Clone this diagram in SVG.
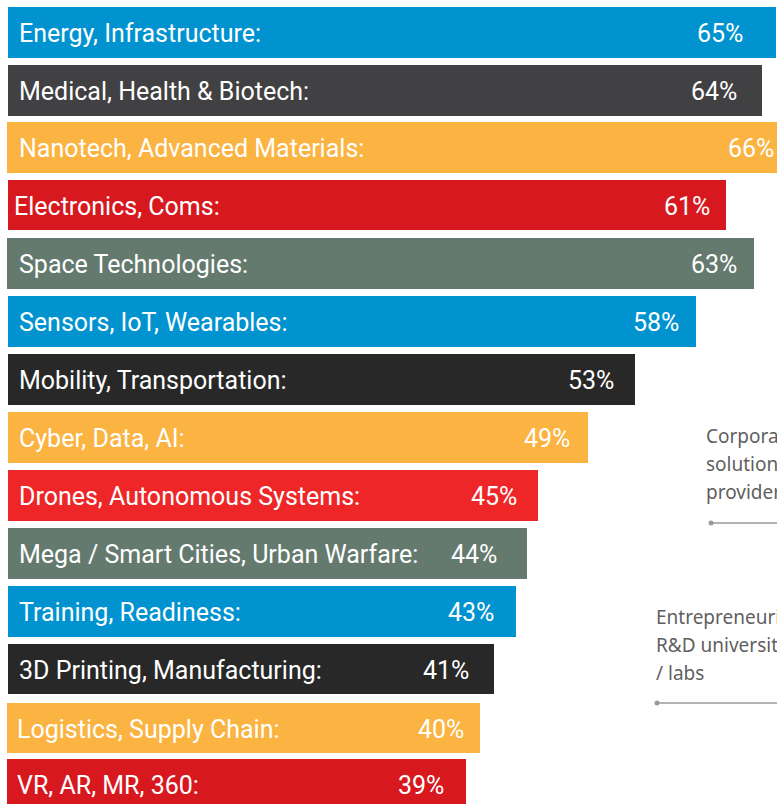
<svg xmlns="http://www.w3.org/2000/svg" width="777" height="804" viewBox="0 0 777 804">
<style>
.lbl{font-family:Roboto,"Liberation Sans",sans-serif;font-size:25px;fill:#ffffff}
.pct{font-family:Roboto,"Liberation Sans",sans-serif;font-size:25px;fill:#ffffff}
.note{font-family:"Noto Sans","Open Sans","Liberation Sans",sans-serif;font-size:19px;fill:#5f5f5f}
.blue{fill:#0093D0}.dark{fill:#414042}.black{fill:#282828}.yellow{fill:#FBB341}.red{fill:#D7191F}.red2{fill:#EE2628}.gray{fill:#647A6E}
.lead{stroke:#9a9a9a;stroke-width:1.5;fill:none}
</style>
<rect width="777" height="804" fill="#ffffff"/>
<g id="bar1"><rect class="blue" x="8" y="7" width="768" height="51"/><text class="lbl" x="19" y="42">Energy, Infrastructure:</text><text class="pct" x="697" y="42">65%</text></g>
<g id="bar2"><rect class="dark" x="8" y="65" width="754" height="51"/><text class="lbl" x="19" y="100">Medical, Health &amp; Biotech:</text><text class="pct" x="691" y="100">64%</text></g>
<g id="bar3"><rect class="yellow" x="7" y="122" width="770" height="51"/><text class="lbl" x="19" y="157">Nanotech, Advanced Materials:</text><text class="pct" x="728" y="157">66%</text></g>
<g id="bar4"><rect class="red" x="8" y="180" width="718" height="50"/><text class="lbl" x="14" y="215">Electronics, Coms:</text><text class="pct" x="664" y="215">61%</text></g>
<g id="bar5"><rect class="gray" x="7" y="238" width="747" height="51"/><text class="lbl" x="19" y="273">Space Technologies:</text><text class="pct" x="691" y="273">63%</text></g>
<g id="bar6"><rect class="blue" x="8" y="296" width="688" height="51"/><text class="lbl" x="19" y="331">Sensors, IoT, Wearables:</text><text class="pct" x="633" y="331">58%</text></g>
<g id="bar7"><rect class="black" x="8" y="354" width="627" height="51"/><text class="lbl" x="19" y="389">Mobility, Transportation:</text><text class="pct" x="568" y="389">53%</text></g>
<g id="bar8"><rect class="yellow" x="8" y="412" width="580" height="51"/><text class="lbl" x="19" y="447">Cyber, Data, AI:</text><text class="pct" x="524" y="447">49%</text></g>
<g id="bar9"><rect class="red2" x="8" y="470" width="530" height="51"/><text class="lbl" x="19" y="505">Drones, Autonomous Systems:</text><text class="pct" x="471" y="505">45%</text></g>
<g id="bar10"><rect class="gray" x="8" y="528" width="519" height="51"/><text class="lbl" x="19" y="563">Mega / Smart Cities, Urban Warfare:</text><text class="pct" x="451" y="563">44%</text></g>
<g id="bar11"><rect class="blue" x="8" y="586" width="508" height="51"/><text class="lbl" x="19" y="621">Training, Readiness:</text><text class="pct" x="448" y="621">43%</text></g>
<g id="bar12"><rect class="black" x="8" y="644" width="486" height="50"/><text class="lbl" x="19" y="679">3D Printing, Manufacturing:</text><text class="pct" x="423" y="679">41%</text></g>
<g id="bar13"><rect class="yellow" x="7" y="703" width="473" height="50"/><text class="lbl" x="17" y="738">Logistics, Supply Chain:</text><text class="pct" x="418" y="738">40%</text></g>
<g id="bar14"><rect class="red" x="7" y="759" width="459" height="50"/><text class="lbl" x="17" y="794">VR, AR, MR, 360:</text><text class="pct" x="398" y="794">39%</text></g>
<g id="note1">
<text class="note" x="706" y="443">Corpora</text>
<text class="note" x="706" y="471">solution</text>
<text class="note" x="706" y="499">provider</text>
</g>
<g id="note2">
<text class="note" x="656" y="624">Entrepreneuri</text>
<text class="note" x="656" y="652">R&amp;D universiti</text>
<text class="note" x="656" y="680">/ labs</text>
</g>
<g id="connectors">
<line class="lead" x1="711" y1="523" x2="777" y2="523"/>
<circle cx="711" cy="523" r="2.5" fill="#9a9a9a"/>
<line class="lead" x1="657" y1="703" x2="777" y2="703"/>
<circle cx="657" cy="703" r="2.5" fill="#9a9a9a"/>
</g>
</svg>
